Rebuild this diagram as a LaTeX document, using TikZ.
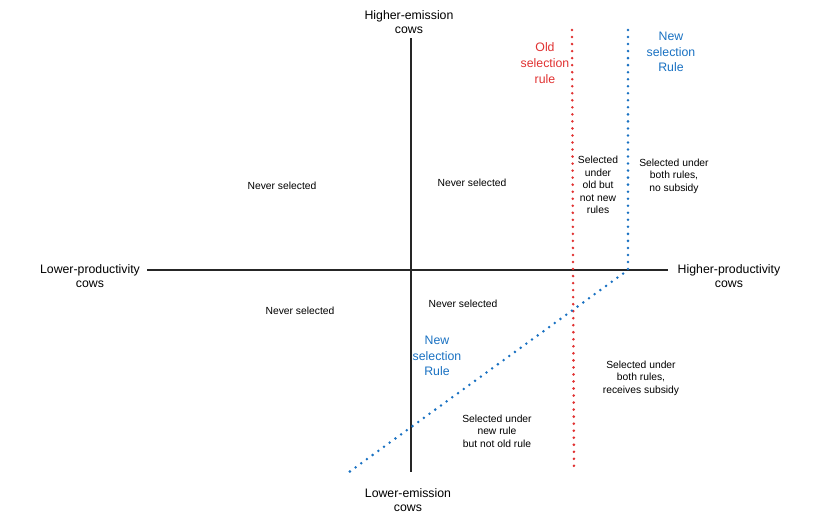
\documentclass[tikz,border=0pt]{standalone}
\usepackage{fontspec}
\setmainfont{Liberation Sans}
\definecolor{rulered}{HTML}{E03131}
\definecolor{ruleblue}{HTML}{1971C2}
\begin{document}
\begin{tikzpicture}[x=0.03cm, y=-0.03cm]
  \tikzset{
    axis_line/.style={draw=black!85, line width=1.5pt},
    old_rule/.style={draw=rulered, line width=2.4pt, line cap=round, dash pattern=on 0pt off 6pt},
    new_rule/.style={draw=ruleblue, line width=2.4pt, line cap=round, dash pattern=on 0pt off 6pt},
    region_text/.style={align=center, font=\fontsize{8.8}{10.8}\selectfont, inner sep=1pt},
    axis_text/.style={align=center, font=\fontsize{10.5}{11.5}\selectfont, inner sep=1pt},
    red_text/.style={align=center, font=\fontsize{10.5}{13.5}\selectfont, text=rulered, inner sep=1pt},
    blue_text/.style={align=center, font=\fontsize{10.5}{13.5}\selectfont, text=ruleblue, inner sep=1pt}
  }
  \useasboundingbox (0,0) rectangle (828,530);

  % Extremos de los ejes
  \coordinate (v_top) at (411,38);
  \coordinate (v_bottom) at (411,472);
  \coordinate (h_left) at (147,270);
  \coordinate (h_right) at (668,270);

  % Ejes
  \draw[axis_line] (v_top) -- (v_bottom);
  \draw[axis_line] (h_left) -- (h_right);

  % Etiquetas de los ejes
  \node[axis_text] (top_label) at (409,22) {Higher-emission\\cows};
  \node[axis_text] (bottom_label) at (408,500) {Lower-emission\\cows};
  \node[axis_text] (left_label) at (90,276) {Lower-productivity\\cows};
  \node[axis_text] (right_label) at (729,276) {Higher-productivity\\cows};

  % Regla antigua (roja)
  \coordinate (old_top) at (572,30);
  \coordinate (old_bottom) at (574,472);
  \draw[old_rule] (old_top) -- (old_bottom);
  \node[red_text] (old_label) at (545,63) {Old\\selection\\rule};

  % Regla nueva (azul)
  \coordinate (new_top) at (628,30);
  \coordinate (new_corner) at (628,270);
  \coordinate (new_end) at (345,475);
  \draw[new_rule] (new_top) -- (new_corner) -- (new_end);
  \node[blue_text] (new_label) at (671,52) {New\\selection\\Rule};
  \node[blue_text] (new_label_low) at (437,356) {New\\selection\\Rule};

  % Regiones
  \node[region_text] (never_a) at (282,186) {Never selected};
  \node[region_text] (never_b) at (472,183) {Never selected};
  \node[region_text] (never_c) at (300,311) {Never selected};
  \node[region_text] (never_d) at (463,304) {Never selected};
  \node[region_text] (old_only) at (598,185) {Selected\\under\\old but\\not new\\rules};
  \node[region_text] (both_nosub) at (674,176) {Selected under\\both rules,\\no subsidy};
  \node[region_text] (both_sub) at (641,378) {Selected under\\both rules,\\receives subsidy};
  \node[region_text] (new_only) at (497,431) {Selected under\\new rule\\but not old rule};
\end{tikzpicture}
\end{document}
